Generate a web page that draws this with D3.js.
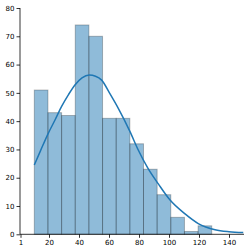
<!DOCTYPE html>
<html><head><meta charset="utf-8">
<script src="https://cdn.jsdelivr.net/npm/d3@7"></script>
<style>body{margin:0;background:#fff}svg{display:block}</style>
</head><body>
<script>
const binStart = 10.2;
const binWidth = 9.1;
const counts = [51, 43, 42, 74, 70, 41, 41, 32, 23, 14, 6, 1, 3];
const kdeX = [10.2, 14.3, 19.5, 24, 28.5, 33, 37.3, 42, 46.9, 51, 55.1, 60.7, 66.2, 74, 79.5, 86, 92.9, 100.7, 110.7, 119.5, 130.7, 140, 149.5];
const kdeY = [24.5, 29.5, 35.7, 40.4, 45.3, 49.4, 52.8, 55.3, 56.3, 55.9, 54.5, 49.6, 44.5, 36.3, 29.8, 23.3, 17.8, 12.1, 7.2, 3.8, 1.6, 0.9, 0.6];
const xTicks = [1, 20, 40, 60, 80, 100, 120, 140];
const yTicks = [0, 10, 20, 30, 40, 50, 60, 70, 80];

const W = 249, H = 252;
const svg = d3.select("body").append("svg").attr("width", W).attr("height", H);
const x = d3.scaleLinear().domain([1, 150]).range([20.5, 244]);
const y = d3.scaleLinear().domain([0, 80]).range([234.3, 8]);

const bins = counts.map((c, i) => ({x0: binStart + i * binWidth, x1: binStart + (i + 1) * binWidth, c}));
svg.append("g").selectAll("rect").data(bins).join("rect")
  .attr("x", d => x(d.x0)).attr("width", d => x(d.x1) - x(d.x0))
  .attr("y", d => y(d.c)).attr("height", d => y(0) - y(d.c))
  .attr("fill", "#1f77b4").attr("fill-opacity", 0.5)
  .attr("stroke", "#000").attr("stroke-opacity", 0.25).attr("stroke-width", 1);

const line = d3.line().x(d => x(d[0])).y(d => y(d[1])).curve(d3.curveMonotoneX);
svg.append("path").datum(kdeX.map((v, i) => [v, kdeY[i]]))
  .attr("d", line).attr("fill", "none").attr("stroke", "#1f77b4").attr("stroke-width", 1.5);

const font = "DejaVu Sans";
const xa = svg.append("g").attr("transform", `translate(0,${y(0)})`)
  .call(d3.axisBottom(x).tickValues(xTicks).tickFormat(d3.format("d")).tickSize(3.5).tickPadding(2));
const ya = svg.append("g").attr("transform", `translate(${x(1) - 0.5},0)`)
  .call(d3.axisLeft(y).tickValues(yTicks).tickSize(3.5).tickPadding(2));
[xa, ya].forEach(a => {
  a.select(".domain").attr("stroke", "#000").attr("stroke-width", 0.8);
  a.selectAll(".tick line").attr("stroke", "#000").attr("stroke-width", 0.8);
  a.selectAll("text").attr("font-family", font).attr("font-size", 7).attr("fill", "#000");
});
xa.select(".domain").attr("d", `M${x(1) - 0.5},0H${x(150)}`);
ya.select(".domain").attr("d", `M0,${y(0)}V${y(80)}`);
</script>
</body></html>
